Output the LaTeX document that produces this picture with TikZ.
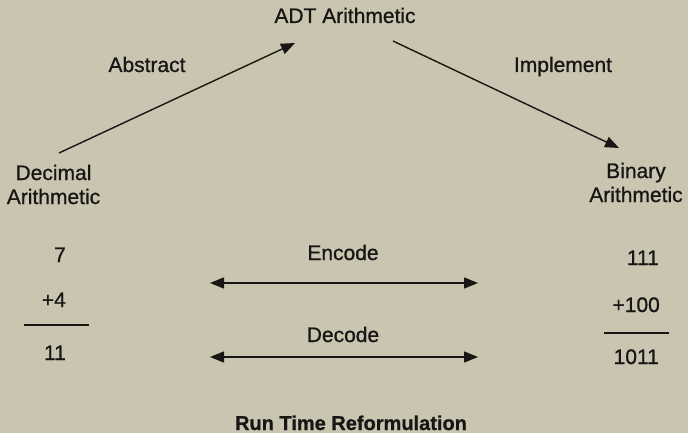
\documentclass[tikz,border=0pt]{standalone}
\usepackage{fontspec}
\setmainfont{Liberation Sans}[RawFeature={embolden=0.8}]
\usetikzlibrary{arrows.meta}
\definecolor{paper}{RGB}{201,197,176}
\definecolor{ink}{RGB}{24,22,20}
\begin{document}
\begin{tikzpicture}[x=1pt,y=-1pt,
  lbl/.style={text=ink,inner sep=0pt,font=\fontsize{21}{24}\selectfont},
  num/.style={lbl,anchor=base east},
  tip/.tip={Triangle[length=14pt,width=11pt]},
  arr/.style={draw=ink,line width=1.4pt,-tip},
  twoway/.style={draw=ink,line width=1.4pt,tip-tip},
  rule/.style={draw=ink,line width=1.3pt}]
  % page
  \fill[paper] (0,0) rectangle (688,433);
  \useasboundingbox (0,0) rectangle (688,433);

  % the three arithmetics (base anchor = baseline of the last line)
  \node[lbl,anchor=base] (adt) at (345,23) {ADT Arithmetic};
  \node[lbl,anchor=base,align=center] (dec) at (53.5,204) {Decimal\\Arithmetic};
  \node[lbl,anchor=base,align=center] (bin) at (636,202) {Binary\\Arithmetic};

  % transformation labels
  \node[lbl,anchor=base] (abs) at (147,72) {Abstract};
  \node[lbl,anchor=base] (imp) at (563,72) {Implement};

  % transformation arrows
  \coordinate (absS) at (59,153);
  \coordinate (absE) at (295,43);
  \coordinate (impS) at (393,41);
  \coordinate (impE) at (619,148);
  \draw[arr] (absS) -- (absE);
  \draw[arr] (impS) -- (impE);

  % decimal sum
  \node[num] (d1) at (66,262) {7};
  \node[num] (d2) at (66,307) {+4};
  \coordinate (dlA) at (24,325);
  \coordinate (dlB) at (89,325);
  \draw[rule] (dlA) -- (dlB);
  \node[num] (d3) at (66,360) {11};

  % binary sum
  \node[num] (b1) at (659,265) {111};
  \node[num] (b2) at (660,312) {+100};
  \coordinate (blA) at (604,333);
  \coordinate (blB) at (669,333);
  \draw[rule] (blA) -- (blB);
  \node[num] (b3) at (659,364) {1011};

  % encode / decode
  \node[lbl,anchor=base] (enc) at (343,260) {Encode};
  \coordinate (encL) at (210,283);
  \coordinate (encR) at (478,283);
  \draw[twoway] (encL) -- (encR);
  \node[lbl,anchor=base] (dcd) at (343,342) {Decode};
  \coordinate (dcdL) at (210,357);
  \coordinate (dcdR) at (478,357);
  \draw[twoway] (dcdL) -- (dcdR);

  % caption
  \node[lbl,anchor=base,font=\fontsize{20}{24}\selectfont\bfseries] (cap) at (351,430) {Run Time Reformulation};
\end{tikzpicture}
\end{document}
